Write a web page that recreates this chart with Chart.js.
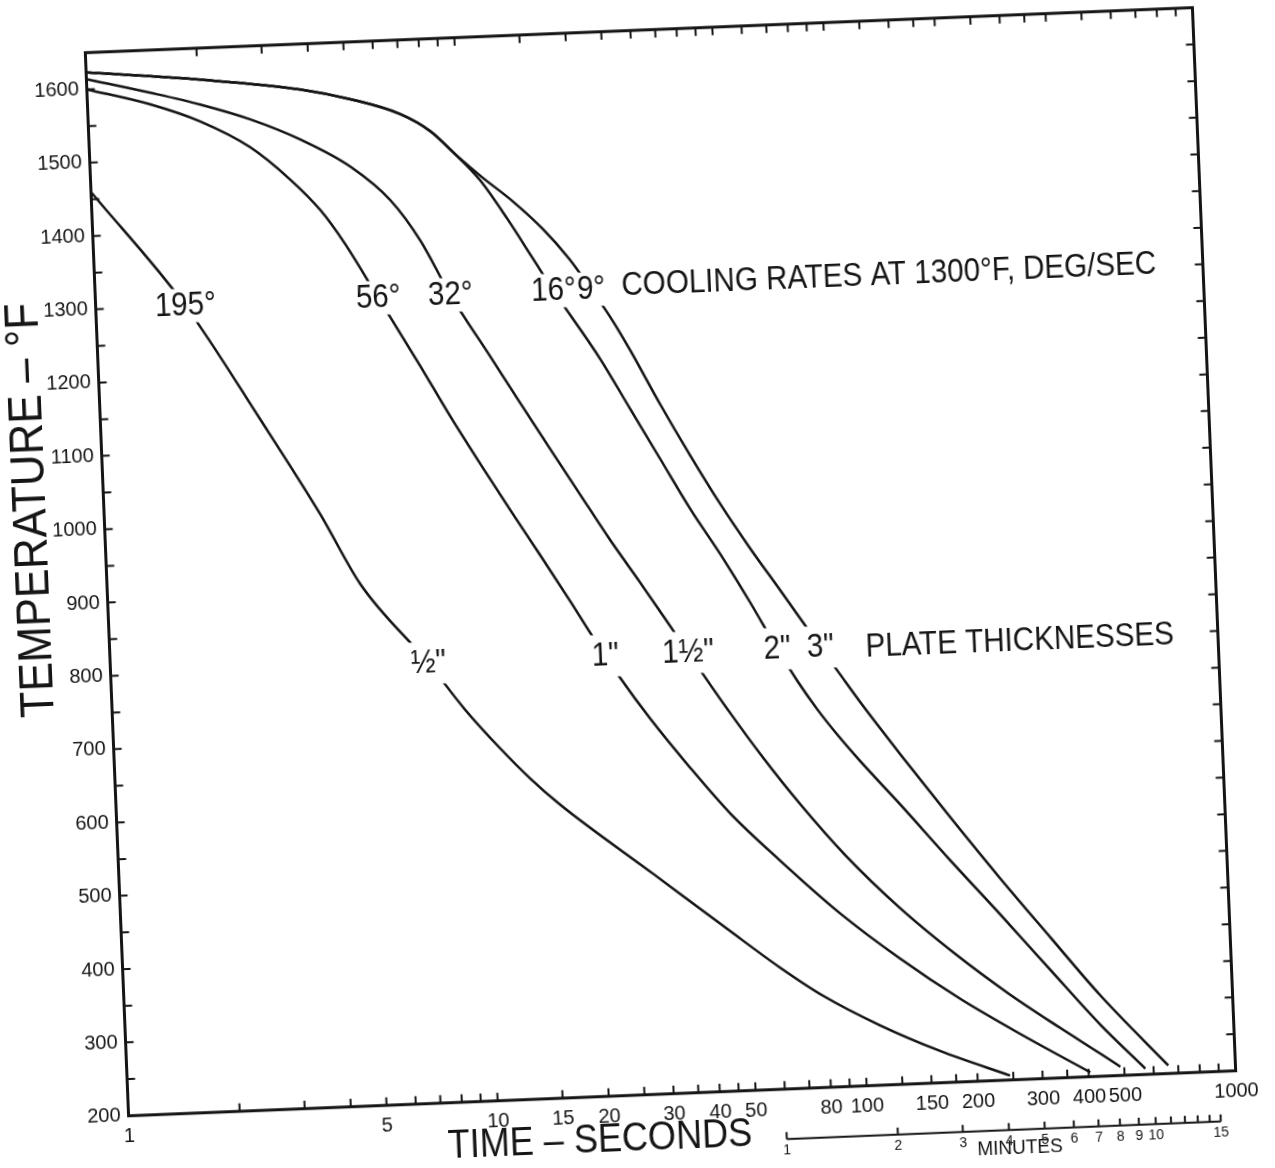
<!DOCTYPE html>
<html>
<head>
<meta charset="utf-8">
<script src="https://cdn.jsdelivr.net/npm/chart.js@4.4.1/dist/chart.umd.min.js"></script>
<style>
  html, body { margin: 0; padding: 0; background: #fff; overflow: hidden; }
  #wrap {
    position: absolute; left: 0; top: 0; width: 1275px; height: 1168px;
    transform-origin: 660.5px 561.75px;
    transform: rotate(-2.33deg);
  }
</style>
</head>
<body>
<div id="wrap"><canvas id="coolingChart" width="1275" height="1168"></canvas></div>
<script>
// Cooling curves of steel plates (time in seconds, log scale; temperature in deg F)
const halfInchTime = [1, 1.75, 2.71, 3.85, 4.85, 7.26, 9, 11.1, 13.3, 15.9, 28, 44, 60, 78, 110, 160, 245];
const halfInchTemp = [1460, 1300, 1141, 1008, 911, 800, 735, 680, 637, 600, 500, 420, 366, 325, 282, 243, 206];

const oneInchTime = [1, 1.48, 2.01, 2.73, 3.47, 4.15, 4.81, 5.83, 7.44, 8.85, 10.56, 12.6, 15.0, 17.9, 20.1, 21.9, 23.9, 28.5, 36.1, 45.9, 61.9, 88.7, 127.5, 183.4, 264, 404];
const oneInchTemp = [1600, 1576, 1550, 1512, 1466, 1423, 1375, 1300, 1205, 1135, 1068, 1003, 940, 875, 831, 800, 769, 712, 643, 578, 511, 436, 371, 313, 262, 206];

const oneHalfInchTime = [1, 1.48, 2.02, 2.75, 3.73, 5.07, 6.45, 7.70, 9.14, 11.5, 13.7, 16.4, 19.5, 23.2, 27.7, 32.1, 36.7, 46.3, 57.1, 70.8, 92.9, 128.9, 180.2, 246, 339, 432, 488];
const oneHalfInchTemp = [1614, 1592, 1573, 1550, 1520, 1480, 1432, 1375, 1300, 1215, 1150, 1084, 1021, 958, 898, 847, 800, 720, 652, 588, 515, 440, 374, 319, 268, 231, 212];

const twoInchTime = [1, 2.03, 3.78, 5.15, 7.0, 8.41, 9.77, 11.3, 13.3, 15.3, 17.4, 22.9, 27.2, 32.4, 38.6, 46.0, 54.8, 64.0, 72, 81, 91, 104.5, 132.5, 178.5, 240, 323, 436, 570];
const twoInchTemp = [1623, 1607, 1588, 1572, 1549, 1524, 1491, 1455, 1400, 1348, 1300, 1204, 1135, 1065, 995, 932, 864, 800, 755, 715, 680, 642, 581, 502, 426, 348, 270, 208];

const threeInchTime = [1, 2.03, 3.78, 5.15, 7.0, 8.41, 9.77, 11.5, 13.8, 16.5, 19.3, 22.0, 25.0, 27.6, 32.8, 39.1, 46.6, 55.5, 66.3, 76.7, 83.8, 94, 105.5, 118.4, 133.9, 180.2, 242.2, 326.1, 439, 658];
const threeInchTemp = [1623, 1607, 1588, 1572, 1549, 1524, 1491, 1458, 1424, 1385, 1343, 1300, 1255, 1215, 1140, 1068, 1000, 938, 879, 830, 800, 762, 724, 688, 650, 561, 475, 392, 310, 211];

const rateLabels = ['195°', '56°', '32°', '16°', '9°'];
const plateLabels = ['½"', '1"', '1½"', '2"', '3"'];

const xTickMarks = [2, 3, 4, 5, 6, 7, 8, 9, 10, 15, 20, 25, 30, 35, 40, 45, 50, 60, 70, 80, 90, 100, 125, 150, 175, 200, 250, 300, 350, 400, 500, 600, 700, 800, 900];
const xTickLabels = [1, 5, 10, 15, 20, 30, 40, 50, 80, 100, 150, 200, 300, 400, 500, 1000];
const yTickMarks = [250, 300, 350, 400, 450, 500, 550, 600, 650, 700, 750, 800, 850, 900, 950, 1000, 1050, 1100, 1150, 1200, 1250, 1300, 1350, 1400, 1450, 1500, 1550, 1600];
const yTickLabels = [200, 300, 400, 500, 600, 700, 800, 900, 1000, 1100, 1200, 1300, 1400, 1500, 1600];
const minuteTicks = [1, 2, 3, 4, 5, 6, 7, 8, 9, 10, 11, 12, 13, 14, 15];
const minuteLabels = [1, 2, 3, 4, 5, 6, 7, 8, 9, 10, 15];

const INK = '#151515';
const FONT = '"Liberation Sans", Arial, sans-serif';

function toPoints(times, temps) {
    return times.map((t, i) => ({ x: t, y: temps[i] }));
}

// time at which a curve passes a given temperature (interpolated in log time)
function crossingTime(times, temps, level) {
    for (let i = 1; i < temps.length; i++) {
        if (temps[i - 1] >= level && temps[i] <= level) {
            const f = (temps[i - 1] - level) / (temps[i - 1] - temps[i]);
            const a = Math.log10(times[i - 1]), b = Math.log10(times[i]);
            return Math.pow(10, a + f * (b - a));
        }
    }
    return null;
}

function drawText(ctx, str, x, y, size, sx, align) {
    ctx.save();
    ctx.translate(x, y);
    ctx.scale(sx, 1);
    ctx.font = size + 'px ' + FONT;
    ctx.textAlign = align || 'center';
    ctx.textBaseline = 'middle';
    ctx.fillStyle = INK;
    ctx.fillText(str, 0, 0);
    ctx.restore();
}

function textWidth(ctx, str, size, sx) {
    ctx.save();
    ctx.font = size + 'px ' + FONT;
    const w = ctx.measureText(str).width * sx;
    ctx.restore();
    return w;
}

const curves = [
    [halfInchTime, halfInchTemp],
    [oneInchTime, oneInchTemp],
    [oneHalfInchTime, oneHalfInchTemp],
    [twoInchTime, twoInchTemp],
    [threeInchTime, threeInchTemp]
];

// Frame, inward tick marks, minutes scale and axis titles
const framePlugin = {
    id: 'framePlugin',
    afterDraw(chart) {
        const ctx = chart.ctx;
        const a = chart.chartArea;
        const xs = chart.scales.x, ys = chart.scales.y;
        const tick = 8;
        ctx.save();
        ctx.strokeStyle = INK;
        ctx.lineWidth = 3;
        ctx.strokeRect(a.left, a.top, a.right - a.left, a.bottom - a.top);

        ctx.lineWidth = 2;
        ctx.beginPath();
        xTickMarks.forEach(v => {
            const px = xs.getPixelForValue(v);
            ctx.moveTo(px, a.bottom); ctx.lineTo(px, a.bottom - tick);
            ctx.moveTo(px, a.top); ctx.lineTo(px, a.top + tick);
        });
        yTickMarks.forEach(v => {
            const py = ys.getPixelForValue(v);
            ctx.moveTo(a.left, py); ctx.lineTo(a.left + tick, py);
            ctx.moveTo(a.right, py); ctx.lineTo(a.right - tick, py);
        });
        ctx.stroke();

        // minutes scale under the seconds axis
        const mY = a.bottom + 50;
        ctx.lineWidth = 2;
        ctx.beginPath();
        ctx.moveTo(xs.getPixelForValue(minuteTicks[0] * 60), mY);
        ctx.lineTo(xs.getPixelForValue(minuteTicks[minuteTicks.length - 1] * 60), mY);
        minuteTicks.forEach(m => {
            const px = xs.getPixelForValue(m * 60);
            ctx.moveTo(px, mY); ctx.lineTo(px, mY - 7);
        });
        ctx.stroke();
        minuteLabels.forEach(m => {
            drawText(ctx, String(m), xs.getPixelForValue(m * 60), mY + 11, 14, 1, 'center');
        });
        drawText(ctx, 'MINUTES', xs.getPixelForValue(256), a.bottom + 69, 20, 0.95, 'center');

        // axis titles
        drawText(ctx, 'TIME – SECONDS', a.left + 470, a.bottom + 44, 41, 0.88, 'center');
        ctx.save();
        ctx.translate(a.left - 72, a.top + 455);
        ctx.rotate(-Math.PI / 2);
        drawText(ctx, 'TEMPERATURE – °F', 0, 0, 48, 0.9, 'center');
        ctx.restore();
        ctx.restore();
    }
};

// Cooling-rate labels at 1300 F and plate labels at 800 F, set into the curves
const curveLabelPlugin = {
    id: 'curveLabelPlugin',
    afterDatasetsDraw(chart) {
        const ctx = chart.ctx;
        const xs = chart.scales.x, ys = chart.scales.y;
        const size = 34, sx = 0.87;
        const groups = [
            { level: 1300, texts: rateLabels, padY: 5 },
            { level: 800, texts: plateLabels, padY: 9 }
        ];
        ctx.save();
        groups.forEach(g => {
            const py = ys.getPixelForValue(g.level);
            const items = curves.map((c, i) => {
                const t = crossingTime(c[0], c[1], g.level);
                return { px: xs.getPixelForValue(t), str: g.texts[i] };
            });
            ctx.fillStyle = '#fff';
            items.forEach(it => {
                const w = textWidth(ctx, it.str, size, sx);
                ctx.fillRect(it.px - w / 2 - 2, py - 12 - g.padY, w + 4, 24 + 2 * g.padY);
            });
            items.forEach(it => drawText(ctx, it.str, it.px, py, size, sx, 'center'));
        });
        drawText(ctx, 'COOLING RATES AT 1300°F, DEG/SEC', xs.getPixelForValue(26.6), ys.getPixelForValue(1300) - 2, size, sx, 'left');
        drawText(ctx, 'PLATE THICKNESSES', xs.getPixelForValue(111), ys.getPixelForValue(800) + 2, size, sx, 'left');
        ctx.restore();
    }
};

const ctx = document.getElementById('coolingChart').getContext('2d');
new Chart(ctx, {
    type: 'line',
    data: {
        datasets: curves.map(c => ({
            data: toPoints(c[0], c[1]),
            borderColor: INK,
            borderWidth: 2.5,
            pointRadius: 0,
            fill: false,
            cubicInterpolationMode: 'monotone'
        }))
    },
    options: {
        responsive: false,
        animation: false,
        devicePixelRatio: 1,
        layout: { padding: { left: 20, top: 29.75, right: 60.5, bottom: 34.25 } },
        plugins: { legend: { display: false }, tooltip: { enabled: false } },
        scales: {
            x: {
                type: 'logarithmic',
                min: 1, max: 1000,
                afterBuildTicks: s => { s.ticks = xTickLabels.map(v => ({ value: v })); },
                afterFit: s => { s.height = 40; },
                grid: { display: false, drawTicks: false },
                border: { display: false },
                ticks: {
                    autoSkip: false, maxRotation: 0, padding: 9,
                    color: INK, font: { size: 20, family: FONT },
                    callback: v => String(v)
                }
            },
            y: {
                type: 'linear',
                min: 200, max: 1650,
                afterBuildTicks: s => { s.ticks = yTickLabels.map(v => ({ value: v })); },
                afterFit: s => { s.width = 86.5; },
                grid: { display: false, drawTicks: false },
                border: { display: false },
                ticks: {
                    padding: 8,
                    color: INK, font: { size: 20, family: FONT },
                    callback: v => String(v)
                }
            }
        }
    },
    plugins: [framePlugin, curveLabelPlugin]
});
</script>
</body>
</html>
